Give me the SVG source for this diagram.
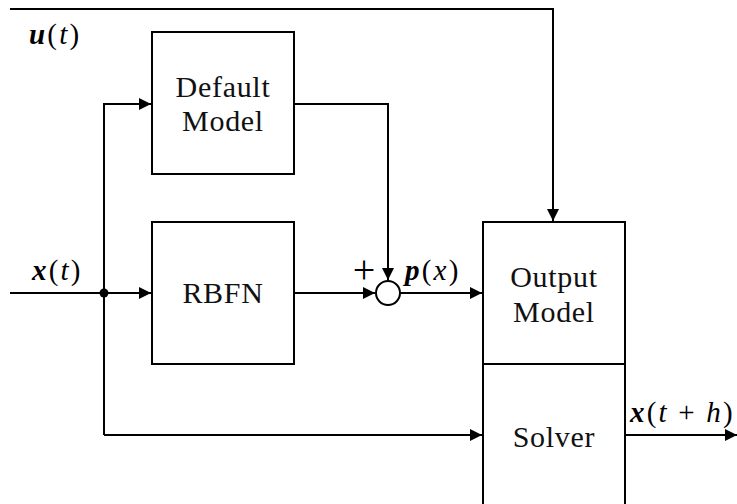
<svg xmlns="http://www.w3.org/2000/svg" width="737" height="504" viewBox="0 0 737 504">
  <style>
    .box { fill: #fff; stroke: #000; stroke-width: 2; }
    .wire { fill: none; stroke: #000; stroke-width: 2; }
    .lbl { font-family: "Liberation Serif", "Times New Roman", serif; font-size: 30px; letter-spacing: 0.7px; fill: #111; text-anchor: middle; }
    .math { font-family: "Liberation Serif", "Times New Roman", serif; font-size: 29px; letter-spacing: 2.2px; fill: #000; }
    .plus { font-family: "Liberation Serif", "Times New Roman", serif; font-size: 40px; fill: #000; text-anchor: middle; }
    .v { font-weight: bold; font-style: italic; }
    .i { font-style: italic; }
  </style>
  <defs>
    <marker id="arrow" viewBox="0 0 10 10" refX="10" refY="5" markerWidth="12" markerHeight="12" markerUnits="userSpaceOnUse" orient="auto">
      <path d="M0,0 L10,5 L0,10 z" fill="#000"/>
    </marker>
  </defs>

  <g id="connectors">
    <!-- u(t) feed into the output model -->
    <polyline class="wire" points="10,9 553,9 553,221" marker-end="url(#arrow)"/>
    <!-- x(t) input and branches -->
    <line class="wire" x1="10" y1="293" x2="151" y2="293" marker-end="url(#arrow)"/>
    <polyline class="wire" points="104,435 104,104 151,104" marker-end="url(#arrow)"/>
    <line class="wire" x1="104" y1="435" x2="482" y2="435" marker-end="url(#arrow)"/>
    <!-- default model into summing junction -->
    <polyline class="wire" points="294,104 388,104 388,280" marker-end="url(#arrow)"/>
    <!-- RBFN into summing junction -->
    <line class="wire" x1="294" y1="293" x2="375" y2="293" marker-end="url(#arrow)"/>
    <!-- sum into output model -->
    <line class="wire" x1="400" y1="293" x2="482" y2="293" marker-end="url(#arrow)"/>
    <!-- solver output -->
    <line class="wire" x1="626" y1="435" x2="737" y2="435" marker-end="url(#arrow)"/>
    <circle cx="104" cy="293" r="4.5" fill="#000"/>
  </g>

  <g id="default-model">
    <rect class="box" x="152" y="32" width="142" height="142"/>
    <text class="lbl" x="223" y="97">Default</text>
    <text class="lbl" x="223" y="131">Model</text>
  </g>

  <g id="rbfn">
    <rect class="box" x="152" y="222" width="142" height="142"/>
    <text class="lbl" x="223" y="303">RBFN</text>
  </g>

  <g id="sum">
    <circle class="box" cx="388" cy="293" r="12"/>
    <text class="plus" x="364" y="283">+</text>
  </g>

  <g id="output-model">
    <rect class="box" x="483" y="222" width="142" height="142"/>
    <text class="lbl" x="554" y="287">Output</text>
    <text class="lbl" x="554" y="322">Model</text>
  </g>

  <g id="solver">
    <rect class="box" x="483" y="364" width="142" height="150"/>
    <text class="lbl" x="554" y="447">Solver</text>
  </g>

  <g id="labels">
    <text class="math" x="29" y="44"><tspan class="v">u</tspan>(<tspan class="i">t</tspan>)</text>
    <text class="math" x="32" y="280"><tspan class="v">x</tspan>(<tspan class="i">t</tspan>)</text>
    <text class="math" x="405" y="280"><tspan class="v">p</tspan>(<tspan class="i">x</tspan>)</text>
    <text class="math" x="630" y="422"><tspan class="v">x</tspan>(<tspan class="i">t</tspan> + <tspan class="i">h</tspan>)</text>
  </g>
</svg>
